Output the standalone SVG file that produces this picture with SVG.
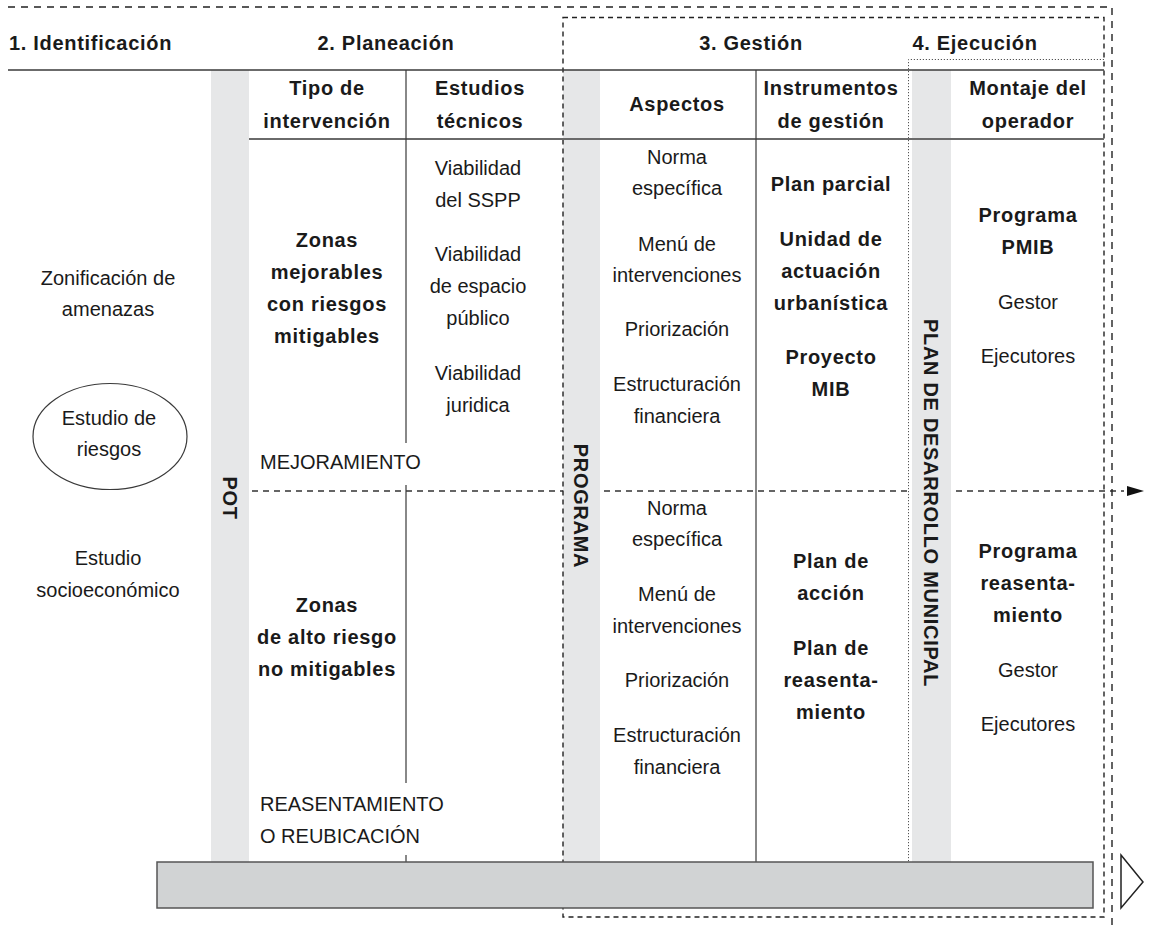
<svg xmlns="http://www.w3.org/2000/svg" width="1149" height="929" viewBox="0 0 1149 929">
<style>
text{font-family:"Liberation Sans",Arial,Helvetica,sans-serif;font-size:20px;fill:#1a1a1a}
.b{font-weight:bold;letter-spacing:0.7px}
.m{text-anchor:middle}
.bar{fill:#e6e7e8}
.div{stroke:#3a3a3a;stroke-width:1.2;fill:none}
.dash{stroke:#333;stroke-width:1.4;fill:none;stroke-dasharray:6 5}
.vdash{stroke:#222;stroke-width:1.4;fill:none;stroke-dasharray:5 4}
.odash{stroke:#222;stroke-width:1.4;fill:none;stroke-dasharray:7 6}
.dot{stroke:#555;stroke-width:1;fill:none;stroke-dasharray:1.2 1.8}
.vt{font-weight:bold;letter-spacing:0.7px;text-anchor:middle}
</style>
<rect width="1149" height="929" fill="#fff"/>

<g id="connectors">
  <line class="dash" x1="252" y1="491" x2="1124" y2="491"/>
  <polygon points="1127,486 1144,491 1127,496" fill="#111"/>
</g>

<g id="bars">
  <rect id="bar-pot" class="bar" x="211" y="70" width="38" height="792"/>
  <rect id="bar-programa" class="bar" x="563" y="70" width="37" height="792"/>
  <rect id="bar-pdm" class="bar" x="912" y="70" width="39" height="792"/>
</g>

<g id="frame">
  <path class="odash" d="M8,7 H1112 V929"/>
  <rect class="vdash" x="563" y="17.5" width="541" height="899.5"/>
  <path class="dot" d="M1104,59.5 H908.5 V862"/>
  <line x1="8" y1="70" x2="1104" y2="70" stroke="#3a3a3a" stroke-width="1.5"/>
  <line x1="249" y1="139" x2="1104" y2="139" stroke="#6a6a6a" stroke-width="2.2"/>
  <path class="div" d="M406,70 V443 M406,485 V783 M406,855 V862 M756,70 V862"/>
</g>

<g id="headers">
  <text class="b" x="9" y="50">1. Identificación</text>
  <text class="b m" x="386" y="50">2. Planeación</text>
  <text class="b m" x="751" y="50">3. Gestión</text>
  <text class="b m" x="975" y="50">4. Ejecución</text>
</g>

<g id="col-identificacion">
  <text class="m" x="108" y="285">Zonificación de</text>
  <text class="m" x="108" y="316">amenazas</text>
  <ellipse cx="110" cy="436.5" rx="77" ry="53" fill="#fff" stroke="#3a3a3a" stroke-width="1.2"/>
  <text class="m" x="109" y="425">Estudio de</text>
  <text class="m" x="109" y="456">riesgos</text>
  <text class="m" x="108" y="565">Estudio</text>
  <text class="m" x="108" y="597">socioeconómico</text>
</g>

<g id="label-pot">
  <text class="vt" transform="translate(230,498) rotate(90)" x="0" y="7">POT</text>
</g>
<g id="label-programa">
  <text class="vt" transform="translate(581,506) rotate(90)" x="0" y="7">PROGRAMA</text>
</g>
<g id="label-pdm">
  <text class="vt" transform="translate(931,503) rotate(90)" x="0" y="7">PLAN DE DESARROLLO MUNICIPAL</text>
</g>

<g id="col-tipo">
  <text class="b m" x="327" y="95">Tipo de</text>
  <text class="b m" x="327" y="128">intervención</text>
  <text class="b m" x="327" y="247">Zonas</text>
  <text class="b m" x="327" y="279">mejorables</text>
  <text class="b m" x="327" y="311">con riesgos</text>
  <text class="b m" x="327" y="343">mitigables</text>
  <text x="260" y="469">MEJORAMIENTO</text>
  <text class="b m" x="327" y="612">Zonas</text>
  <text class="b m" x="327" y="644">de alto riesgo</text>
  <text class="b m" x="327" y="676">no mitigables</text>
  <text x="260" y="811">REASENTAMIENTO</text>
  <text x="260" y="843">O REUBICACIÓN</text>
</g>

<g id="col-estudios">
  <text class="b m" x="480" y="95">Estudios</text>
  <text class="b m" x="480" y="128">técnicos</text>
  <text class="m" x="478" y="175">Viabilidad</text>
  <text class="m" x="478" y="207">del SSPP</text>
  <text class="m" x="478" y="261">Viabilidad</text>
  <text class="m" x="478" y="293">de espacio</text>
  <text class="m" x="478" y="325">público</text>
  <text class="m" x="478" y="380">Viabilidad</text>
  <text class="m" x="478" y="412">juridica</text>
</g>

<g id="col-aspectos">
  <text class="b m" x="677" y="111">Aspectos</text>
  <text class="m" x="677" y="164">Norma</text>
  <text class="m" x="677" y="195">específica</text>
  <text class="m" x="677" y="251">Menú de</text>
  <text class="m" x="677" y="282">intervenciones</text>
  <text class="m" x="677" y="336">Priorización</text>
  <text class="m" x="677" y="391">Estructuración</text>
  <text class="m" x="677" y="423">financiera</text>
  <text class="m" x="677" y="515">Norma</text>
  <text class="m" x="677" y="546">específica</text>
  <text class="m" x="677" y="601">Menú de</text>
  <text class="m" x="677" y="633">intervenciones</text>
  <text class="m" x="677" y="687">Priorización</text>
  <text class="m" x="677" y="742">Estructuración</text>
  <text class="m" x="677" y="774">financiera</text>
</g>

<g id="col-instrumentos">
  <text class="b m" x="831" y="95">Instrumentos</text>
  <text class="b m" x="831" y="128">de gestión</text>
  <text class="b m" x="831" y="191">Plan parcial</text>
  <text class="b m" x="831" y="246">Unidad de</text>
  <text class="b m" x="831" y="278">actuación</text>
  <text class="b m" x="831" y="310">urbanística</text>
  <text class="b m" x="831" y="364">Proyecto</text>
  <text class="b m" x="831" y="396">MIB</text>
  <text class="b m" x="831" y="568">Plan de</text>
  <text class="b m" x="831" y="600">acción</text>
  <text class="b m" x="831" y="655">Plan de</text>
  <text class="b m" x="831" y="687">reasenta-</text>
  <text class="b m" x="831" y="719">miento</text>
</g>

<g id="col-montaje">
  <text class="b m" x="1028" y="95">Montaje del</text>
  <text class="b m" x="1028" y="128">operador</text>
  <text class="b m" x="1028" y="222">Programa</text>
  <text class="b m" x="1028" y="254">PMIB</text>
  <text class="m" x="1028" y="309">Gestor</text>
  <text class="m" x="1028" y="363">Ejecutores</text>
  <text class="b m" x="1028" y="558">Programa</text>
  <text class="b m" x="1028" y="590">reasenta-</text>
  <text class="b m" x="1028" y="622">miento</text>
  <text class="m" x="1028" y="677">Gestor</text>
  <text class="m" x="1028" y="731">Ejecutores</text>
</g>

<g id="timeline">
  <rect x="157" y="862" width="936" height="46" fill="#d1d3d4" stroke="#555" stroke-width="1.5"/>
  <polygon points="1121,855 1143,882 1121,908" fill="#fff" stroke="#222" stroke-width="1.5"/>
</g>
</svg>
